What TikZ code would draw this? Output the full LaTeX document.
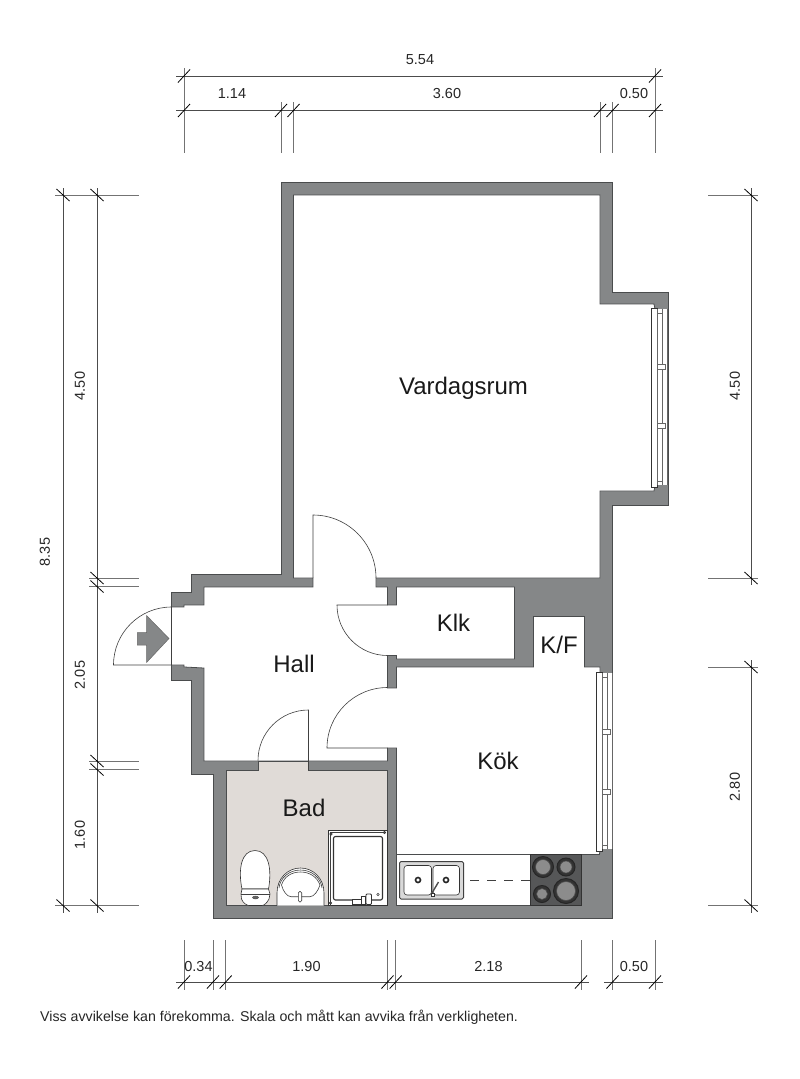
\documentclass[tikz,border=0pt]{standalone}
\usepackage{fontspec}
\setmainfont{Liberation Sans}
\definecolor{wallgray}{HTML}{858788}
\definecolor{walledge}{HTML}{4A4C4D}
\definecolor{badfloor}{HTML}{E0DBD7}
\definecolor{hobdark}{HTML}{565758}
\tikzset{
    wall/.style={fill=wallgray, draw=walledge, line width=0.8pt, line join=miter},
    room/.style={fill=white, draw=walledge, line width=0.8pt},
    thinline/.style={draw=black!75, line width=0.6pt},
    dimline/.style={draw=black!70, line width=0.8pt},
    extline/.style={draw=black!55, line width=1pt},
    fixture/.style={draw=black!80, line width=0.6pt, fill=white},
    frameline/.style={draw=black!60, line width=0.9pt},
    roomtext/.style={inner sep=0pt, text=black!90, font=\fontsize{24}{28}\selectfont},
    dimtext/.style={inner sep=0pt, text=black!85, font=\fontsize{14.5}{17}\selectfont}
}
\begin{document}
\begin{tikzpicture}[x=1pt, y=-1pt]
    \useasboundingbox (0,0) rectangle (800,1079);

    \draw[wall] (281,182) -- (612.5,182) -- (612.5,292) -- (668,292) -- (668,505) -- (612.5,505) -- (612.5,918)
        -- (213,918) -- (213,774) -- (191,774) -- (191,680) -- (171.5,680) -- (171.5,592) -- (191,592) -- (191,574) -- (281,574) -- cycle;
    \draw[room] (293.5,195) -- (600,195) -- (600,304) -- (654,304) -- (655,309) -- (655,486) -- (654,491) -- (600,491) -- (600,578)
        -- (376,578) -- (376,587) -- (387.5,587) -- (387.5,605) -- (396.5,605) -- (396.5,587) -- (514.5,587) -- (514.5,659)
        -- (396.5,659) -- (396.5,655.5) -- (387.5,655.5) -- (387.5,688) -- (396.5,688) -- (396.5,667) -- (533.5,667)
        -- (533.5,616.5) -- (584.5,616.5) -- (584.5,667) -- (600,667) -- (600,849) -- (599.5,854.5) -- (581,854.5)
        -- (581,905.5) -- (396.5,905.5) -- (396.5,748) -- (387.5,748) -- (387.5,761) -- (204,761) -- (204,668) -- (184,667)
        -- (184,665) -- (171.5,665) -- (171.5,607) -- (184,607) -- (184,605) -- (204,605) -- (204,587) -- (313,587) -- (313,578)
        -- (293.5,578) -- cycle;
    \draw[wall, fill=badfloor] (226,770) -- (258,770) -- (258,761) -- (308.5,761) -- (308.5,770) -- (387.5,770) -- (387.5,905.5) -- (226,905.5) -- cycle;

    \draw[thinline] (313,578) -- (313,515) arc[start angle=90, end angle=0, radius=63pt];
    \draw[thinline] (387.5,605) -- (337,605) arc[start angle=180, end angle=270, radius=50.5pt];
    \draw[thinline] (387.5,748) -- (327,748) arc[start angle=180, end angle=90, radius=60.5pt];
    \draw[thinline] (308.5,770) -- (308.5,710) arc[start angle=90, end angle=180, radius=50.5pt];
    \draw[thinline] (171.5,665) -- (113.5,665) arc[start angle=180, end angle=90, radius=58pt];
    \draw[thinline] (171.5,607) -- (171.5,665);
    \draw[fill=wallgray, draw=black!60, line width=0.5pt] (146.7,615.7) -- (169,638.5) -- (146.7,662.3) -- (146.7,645) -- (137.3,645) -- (137.3,632.7) -- (146.7,632.7) -- cycle;

    \foreach \wx/\wt/\wb/\wa/\wc in {651/309/485/367/426, 596/673/849/732/792} {
        \fill[white] (\wx+6,\wt) rectangle (\wx+16,\wb);
        \draw[fixture] (\wx,\wt-1) rectangle (\wx+6,\wb+2);
        \draw[frameline] (\wx+6.2,\wt) -- (\wx+6.2,\wb);
        \draw[frameline] (\wx+11.5,\wt) -- (\wx+11.5,\wb);
        \draw[frameline] (\wx+16,\wt) -- (\wx+16,\wb);
        \draw[fill=white, frameline] (\wx+6.2,\wa-2.2) rectangle (\wx+14,\wa+2.2);
        \draw[fill=white, frameline] (\wx+6.2,\wc-2.2) rectangle (\wx+14,\wc+2.2);
        \draw[frameline] (\wx+6.2,\wt+4) -- (\wx+11.5,\wt+4);
        \draw[frameline] (\wx+6.2,\wb-4) -- (\wx+11.5,\wb-4);
    }

    \draw[room] (396.5,854.5) -- (581,854.5) -- (581,905.5) -- (396.5,905.5) -- cycle;
    \draw[fill=hobdark, draw=black!80, line width=0.8pt] (530,854.5) rectangle (581,905.5);
    \foreach \hx/\hy/\hr in {543/867/10.5, 566/867/9, 542/894/8.5, 566/891/12.5} {
        \draw[fill=black!80, draw=black!85, line width=1pt] (\hx,\hy) circle[radius=\hr pt];
        \draw[fill=black!45, draw=black!70, line width=0.6pt] (\hx,\hy) circle[radius=\hr pt-3pt];
    }
    \draw[thinline, rounded corners=1.5pt, fill=black!15, line width=1pt] (399.5,861.5) rectangle (463.5,899);
    \draw[fixture, rounded corners=3pt] (404,865.5) rectangle (431.5,895);
    \draw[fixture, rounded corners=3pt] (433,865.5) rectangle (459.5,895);
    \foreach \hx in {418,446} {
        \draw[fill=white, draw=black!85, line width=1.6pt] (\hx,880) circle[radius=2.5pt];
    }
    \draw[black!70, line width=1.4pt] (432,893) -- (438.5,882);
    \draw[fixture] (431.5,893) rectangle (434,896);
    \draw[thinline, dash pattern=on 9pt off 8pt] (470,880) -- (530,880);

    \draw[fixture, line width=0.8pt] (328.5,830) rectangle (387.5,905.5);
    \draw[thinline] (330.5,832) -- (385.5,832);
    \draw[thinline] (330.5,832) -- (330.5,905.5);
    \draw[fixture, line width=1.1pt, rounded corners=2pt] (333.5,836.5) rectangle (382.5,900);
    \foreach \hx/\hy in {331/834, 384.5/832.5, 330.5/903} {
        \draw[fill=black!70, draw=black!80] (\hx,\hy) circle[radius=1.4pt];
    }
    \draw[fixture, line width=0.9pt] (352,899) rectangle (361,904.5);
    \draw[fixture, line width=0.9pt] (361,896) rectangle (365,904.5);
    \draw[fixture, line width=0.9pt, rounded corners=1pt] (366,894) rectangle (371.5,904.5);
    \draw[thinline] (378,894.5) circle[radius=1.2pt];

    \draw[fixture] (277,905.5) -- (277,893) .. controls (277,878) and (288,868) .. (300.5,868) .. controls (313,868) and (324,878) .. (324,893) -- (324,905.5);
    \draw[thinline] (279,888) .. controls (280,878) and (289,870) .. (300.5,870) .. controls (312,870) and (321,878) .. (322,888);
    \draw[thinline] (281.5,885) .. controls (284,877) and (291,872) .. (300.5,872) .. controls (310,872) and (317,877) .. (320,885) .. controls (318,891) and (314,896.7) .. (310,896.7) -- (291,896.7) .. controls (287,896.7) and (283,891) .. (281.5,885) -- cycle;
    \draw[fixture, rounded corners=1.5pt] (298.3,891.5) rectangle (301.7,902);

    \draw[fixture] (242,889) .. controls (238,870) and (241,850.5) .. (255,850.5) .. controls (269,850.5) and (272,870) .. (268.5,889) -- cycle;
    \draw[fixture] (242,889) -- (268.5,889) -- (270,894) -- (269,899) .. controls (267,903) and (264,905.5) .. (262,905.5) -- (249,905.5) .. controls (247,905.5) and (243,903) .. (241.5,899) -- (241,894) -- cycle;
    \draw[thinline] (241,894) -- (270,894);
    \draw[fill=black!60, draw=black!70] (255.5,897.5) ellipse[x radius=3pt, y radius=1.5pt];

    \foreach \ex/\ea/\eb in {184/68/153, 281/102/153, 293.5/102/153, 600/102/153, 612.5/102/153, 655/68/153,
        184/940/990, 213/940/990, 225.7/940/990, 387.5/940/990, 395.7/940/990, 581/940/990, 612.5/940/990, 655/940/990} {
        \draw[extline] (\ex,\ea) -- (\ex,\eb);
    }
    \foreach \ey/\ea/\eb in {195/55/139, 578/89/139, 586.5/89/139, 761/89/139, 769.5/89/139, 905.5/55/139,
        195/708/758, 578/708/758, 667/708/758, 905.5/708/758} {
        \draw[extline] (\ea,\ey) -- (\eb,\ey);
    }
    \draw[dimline] (176,76) -- (663,76);
    \draw[dimline] (176,110.5) -- (663,110.5);
    \draw[dimline] (176,982) -- (589,982);
    \draw[dimline] (604,982) -- (663,982);
    \draw[dimline] (63,188) -- (63,913);
    \draw[dimline] (97,188) -- (97,913);
    \draw[dimline] (751,188) -- (751,585);
    \draw[dimline] (751,660) -- (751,913);

    \foreach \tx/\ty in {184/76, 655/76, 184/110.5, 281/110.5, 293.5/110.5, 600/110.5, 612.5/110.5, 655/110.5,
        184/982, 213/982, 225.7/982, 387.5/982, 395.7/982, 581/982, 612.5/982, 655/982} {
        \draw[dimline, black] (\tx-6,\ty+6.5) -- (\tx+6,\ty-6.5);
    }
    \foreach \tx/\ty in {63/195, 63/905.5, 97/195, 97/578, 97/586.5, 97/761, 97/769.5, 97/905.5,
        751/195, 751/578, 751/667, 751/905.5} {
        \draw[dimline, black] (\tx-6.5,\ty-6) -- (\tx+6.5,\ty+6);
    }

    \node[dimtext] (total) at (420,60) {5.54};
    \node[dimtext] (topa) at (232,94) {1.14};
    \node[dimtext] (topb) at (447,94) {3.60};
    \node[dimtext] (topc) at (634,94) {0.50};
    \node[dimtext] (bota) at (198.5,966) {0.34};
    \node[dimtext] (botb) at (306.5,966) {1.90};
    \node[dimtext] (botc) at (488.5,966) {2.18};
    \node[dimtext] (botd) at (634,966) {0.50};
    \node[dimtext, rotate=90] (height) at (45,552) {8.35};
    \node[dimtext, rotate=90] (lefta) at (80,386) {4.50};
    \node[dimtext, rotate=90] (leftb) at (80,675) {2.05};
    \node[dimtext, rotate=90] (leftc) at (80,835) {1.60};
    \node[dimtext, rotate=90] (righta) at (735,386) {4.50};
    \node[dimtext, rotate=90] (rightb) at (735,787) {2.80};

    \node[roomtext] (vardagsrum) at (463.5,388) {Vardagsrum};
    \node[roomtext] (hall) at (294,664) {Hall};
    \node[roomtext] (klk) at (453.5,623) {Klk};
    \node[roomtext] (kf) at (559,645) {K/F};
    \node[roomtext] (kok) at (498,761) {Kök};
    \node[roomtext] (bad) at (304,808) {Bad};
    \node[inner sep=0pt, anchor=west, text=black!85, font=\fontsize{14.2}{16}\selectfont] (note) at (40,1017) {Viss avvikelse kan förekomma. Skala och mått kan avvika från verkligheten.};
\end{tikzpicture}
\end{document}
